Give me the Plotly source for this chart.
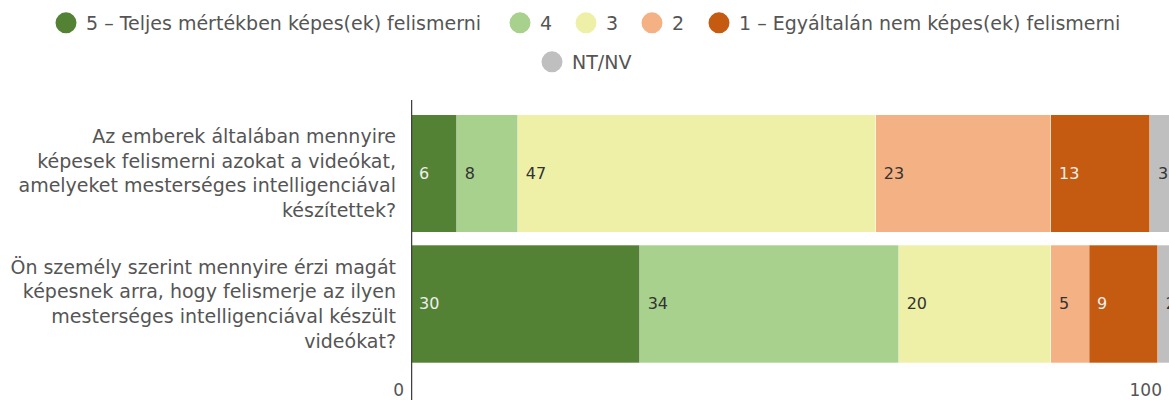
import plotly.graph_objects as go

categories = [
    "Az emberek általában mennyire<br>képesek felismerni azokat a videókat,<br>amelyeket mesterséges intelligenciával<br>készítettek?",
    "Ön személy szerint mennyire érzi magát<br>képesnek arra, hogy felismerje az ilyen<br>mesterséges intelligenciával készült<br>videókat?",
]
series_names = [
    "5 – Teljes mértékben képes(ek) felismerni",
    "4",
    "3",
    "2",
    "1 – Egyáltalán nem képes(ek) felismerni",
    "NT/NV",
]
values = [
    [6, 30],
    [8, 34],
    [47, 20],
    [23, 5],
    [13, 9],
    [3, 2],
]
colors = ["#548235", "#A9D18E", "#EEF0A8", "#F4B183", "#C55A11", "#BFBFBF"]
text_colors = ["#eeeeee", "#333333", "#333333", "#333333", "#eeeeee", "#333333"]
x_tick_vals = [0, 99.5]
x_tick_text = ["0", "100"]

W, H = 1169, 400
legend_px = [46, 500, 566, 632, 699, 532]
legend_x = [p / W for p in legend_px]
legend_y = [1 - 23 / H] * 5 + [1 - 62 / H]

FONT = "DejaVu Sans"
fig = go.Figure()

for name, vals, col, tcol in zip(series_names, values, colors, text_colors):
    fig.add_trace(go.Bar(
        y=categories, x=vals, orientation="h", name=name,
        marker=dict(color=col, line=dict(color="rgba(255,255,255,0.6)", width=0.5)),
        text=["\u00a0" + str(v) for v in vals],
        textposition="inside", insidetextanchor="start",
        textfont=dict(color=tcol, size=16, family=FONT),
        constraintext="none",
        showlegend=False, hoverinfo="skip",
    ))

legend_layout = {}
for i, (name, col) in enumerate(zip(series_names, colors)):
    key = "legend" if i == 0 else f"legend{i + 1}"
    fig.add_trace(go.Scatter(
        x=[None], y=[None], mode="markers", name=name,
        marker=dict(color=col, size=16, symbol="circle", line=dict(color=col, width=5)),
        legend=key,
    ))
    legend_layout[key] = dict(
        orientation="h", xref="container", yref="container",
        x=legend_x[i], xanchor="left", y=legend_y[i], yanchor="middle",
        font=dict(size=19, color="#555555", family=FONT),
        bgcolor="rgba(0,0,0,0)", borderwidth=0,
    )

fig.add_shape(type="line", xref="x", yref="paper", x0=0, x1=0, y0=-0.2, y1=1,
              line=dict(color="#404040", width=2.5))

fig.update_layout(
    width=W, height=H,
    margin=dict(l=411, r=0, t=100, b=22, autoexpand=False),
    plot_bgcolor="white", paper_bgcolor="white",
    barmode="stack", bargap=0.1,
    font=dict(family=FONT, color="#555555", size=19),
    xaxis=dict(range=[0, 99.5], tickvals=x_tick_vals, ticktext=x_tick_text,
               showgrid=False, zeroline=False, showline=False,
               ticklabelposition="outside left", ticklabelshift=-7, automargin=False,
               tickfont=dict(size=17, color="#555555", family=FONT)),
    yaxis=dict(range=[1.567, -0.563], showgrid=False, zeroline=False,
               showline=False, ticklabelstandoff=14, automargin=False,
               tickfont=dict(size=19, color="#555555", family=FONT)),
    **legend_layout,
)

fig.write_html("out.html", config={"displayModeBar": False},
               post_script="document.body.style.margin='0px';")
